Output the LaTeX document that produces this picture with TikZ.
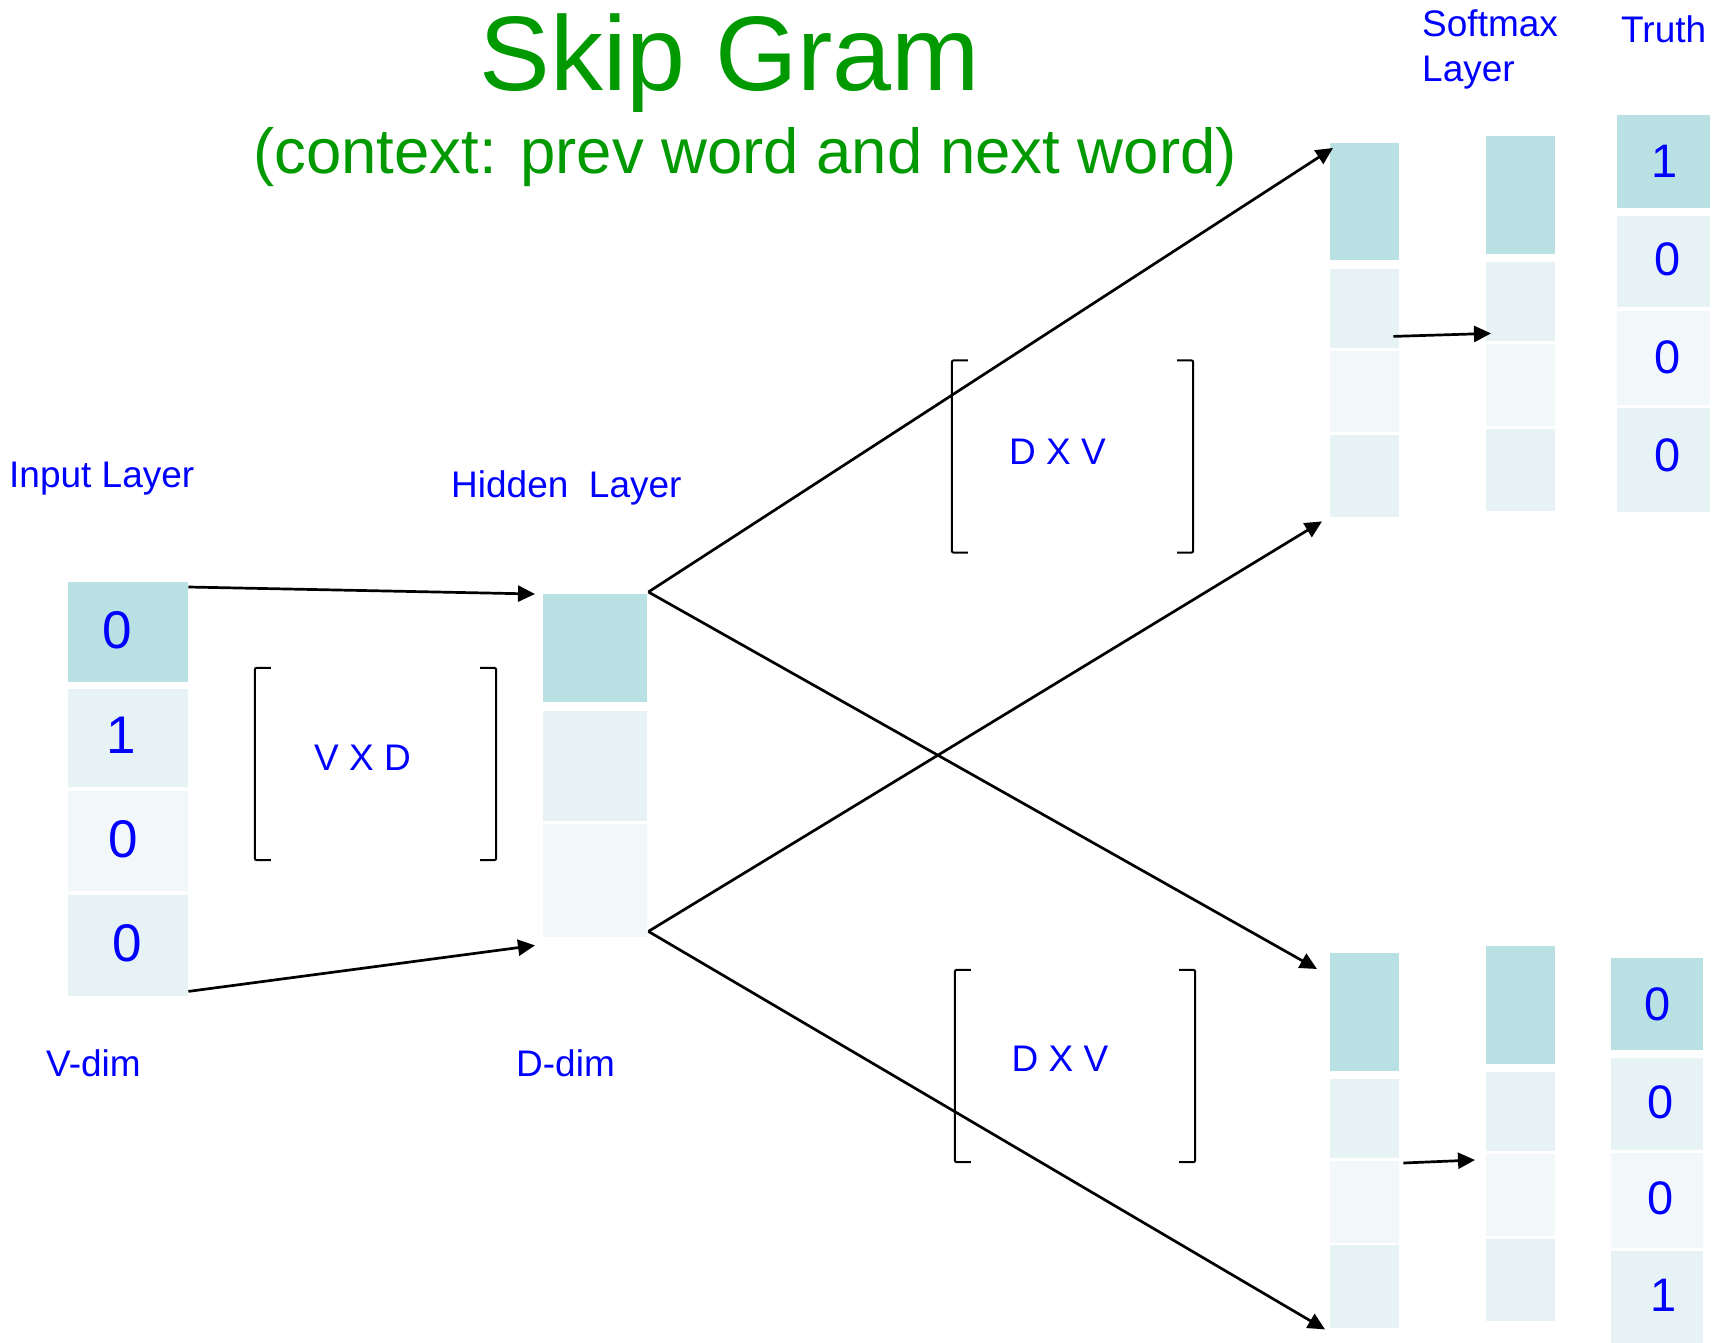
\documentclass[tikz,border=0pt]{standalone}
\usepackage{fontspec}
\setmainfont{Liberation Sans}
\usetikzlibrary{arrows.meta}

\definecolor{cellteal}{RGB}{185,224,227}
\definecolor{cellpale}{RGB}{230,242,244}
\definecolor{cellwhite}{RGB}{242,248,250}
\definecolor{titlegreen}{RGB}{0,153,0}

\begin{document}
\begin{tikzpicture}[x=1pt, y=-1pt,
	cell/.style={rectangle, anchor=north west, inner sep=0pt},
	celldark/.style={cell, fill=cellteal},
	cellmid/.style={cell, fill=cellpale},
	celllight/.style={cell, fill=cellwhite},
	lbl/.style={inner sep=0pt, text=blue, font=\fontsize{37}{45}\selectfont},
	bigdigit/.style={inner sep=0pt, text=blue, font=\fontsize{53}{60}\selectfont},
	smalldigit/.style={inner sep=0pt, text=blue, font=\fontsize{47}{54}\selectfont},
	matbox/.style={inner sep=0pt, minimum width=241pt, minimum height=192pt},
	brk/.style={line width=2pt, rounded corners=2pt},
	arr/.style={line width=2.7pt, -{Triangle[length=17pt,width=16pt]}}]
	\useasboundingbox (0,0) rectangle (1725,1343);

	% Title lines
	\node[anchor=base, text=titlegreen, font=\fontsize{106}{120}\selectfont] (title) at (730,91) {Skip Gram};
	\node[anchor=base, text=titlegreen, font=\fontsize{63.5}{72}\selectfont] (subtitle) at (745,174) {(context: prev word and next word)};

	% Input layer (one-hot)
	\node[celldark, minimum width=120pt, minimum height=100pt, label={[bigdigit, xshift=-11pt, yshift=2pt]center:0}] (in1) at (68,582) {};
	\node[cellmid, minimum width=120pt, minimum height=98pt, label={[bigdigit, xshift=-7pt, yshift=3pt]center:1}] (in2) at (68,689) {};
	\node[celllight, minimum width=120pt, minimum height=100pt, label={[bigdigit, xshift=-5pt, yshift=2pt]center:0}] (in3) at (68,791) {};
	\node[cellmid, minimum width=120pt, minimum height=101pt, label={[bigdigit, xshift=-1pt, yshift=2pt]center:0}] (in4) at (68,895) {};

	% Hidden layer
	\node[celldark, minimum width=104pt, minimum height=108pt] (hid1) at (543,594) {};
	\node[cellmid, minimum width=104pt, minimum height=110pt] (hid2) at (543,711) {};
	\node[celllight, minimum width=104pt, minimum height=113pt] (hid3) at (543,824) {};

	% Upper output, softmax and truth columns
	\node[celldark, minimum width=69pt, minimum height=117pt] (ta1) at (1330,143) {};
	\node[cellmid, minimum width=69pt, minimum height=79pt] (ta2) at (1330,269) {};
	\node[celllight, minimum width=69pt, minimum height=81pt] (ta3) at (1330,351) {};
	\node[cellmid, minimum width=69pt, minimum height=82pt] (ta4) at (1330,435) {};
	\node[celldark, minimum width=69pt, minimum height=118pt] (sa1) at (1486,136) {};
	\node[cellmid, minimum width=69pt, minimum height=79pt] (sa2) at (1486,262) {};
	\node[celllight, minimum width=69pt, minimum height=82pt] (sa3) at (1486,344) {};
	\node[cellmid, minimum width=69pt, minimum height=82pt] (sa4) at (1486,429) {};
	\node[celldark, minimum width=93pt, minimum height=93pt, label={[smalldigit, xshift=1pt]center:1}] (ua1) at (1617,115) {};
	\node[cellmid, minimum width=93pt, minimum height=91pt, label={[smalldigit, xshift=4pt, yshift=2pt]center:0}] (ua2) at (1617,216) {};
	\node[celllight, minimum width=93pt, minimum height=94pt, label={[smalldigit, xshift=4pt, yshift=1pt]center:0}] (ua3) at (1617,311) {};
	\node[cellmid, minimum width=93pt, minimum height=104pt, label={[smalldigit, xshift=4pt, yshift=5pt]center:0}] (ua4) at (1617,408) {};

	% Lower output, softmax and truth columns
	\node[celldark, minimum width=69pt, minimum height=118pt] (tb1) at (1330,953) {};
	\node[cellmid, minimum width=69pt, minimum height=79pt] (tb2) at (1330,1079) {};
	\node[celllight, minimum width=69pt, minimum height=82pt] (tb3) at (1330,1161) {};
	\node[cellmid, minimum width=69pt, minimum height=83pt] (tb4) at (1330,1245) {};
	\node[celldark, minimum width=69pt, minimum height=118pt] (sb1) at (1486,946) {};
	\node[cellmid, minimum width=69pt, minimum height=79pt] (sb2) at (1486,1072) {};
	\node[celllight, minimum width=69pt, minimum height=82pt] (sb3) at (1486,1154) {};
	\node[cellmid, minimum width=69pt, minimum height=82pt] (sb4) at (1486,1239) {};
	\node[celldark, minimum width=92pt, minimum height=92pt, label={[smalldigit]center:0}] (ub1) at (1611,958) {};
	\node[cellmid, minimum width=92pt, minimum height=92pt, label={[smalldigit, xshift=3pt, yshift=2pt]center:0}] (ub2) at (1611,1058) {};
	\node[celllight, minimum width=92pt, minimum height=95pt, label={[smalldigit, xshift=3pt, yshift=2pt]center:0}] (ub3) at (1611,1153) {};
	\node[cellmid, minimum width=92pt, minimum height=95pt, label={[smalldigit, xshift=6pt, yshift=3pt]center:1}] (ub4) at (1611,1251) {};

	% Layer labels
	\node[lbl, anchor=base west] (inlbl) at (9,487) {Input Layer};
	\node[lbl, anchor=base west] (hidlbl) at (451,497) {Hidden\ \ Layer};
	\node[lbl, anchor=base west] (vdim) at (46,1076) {V-dim};
	\node[lbl, anchor=base west] (ddim) at (516,1076) {D-dim};
	\node[lbl, anchor=north west, align=left] (smlbl) at (1422,10) {Softmax\\Layer};
	\node[lbl, anchor=base west] (truthlbl) at (1621,43) {Truth};

	% Weight matrices with brackets
	\node[matbox] (vxd) at (375.5,764) {};
	\node[matbox] (dxv1) at (1072.5,456.5) {};
	\node[matbox, minimum width=240pt] (dxv2) at (1075,1066) {};
	\foreach \m in {vxd,dxv1,dxv2} {
		\draw[brk] ([xshift=16pt]\m.north west) -- (\m.north west) -- (\m.south west) -- ([xshift=16pt]\m.south west); % Draw the left bracket
		\draw[brk] ([xshift=-16pt]\m.north east) -- (\m.north east) -- (\m.south east) -- ([xshift=-16pt]\m.south east); % Draw the right bracket
	}
	\node[lbl] (vxdtxt) at ([xshift=-13pt,yshift=6pt]vxd.center) {V X D};
	\node[lbl] (dxv1txt) at ([xshift=-15pt,yshift=5pt]dxv1.center) {D X V};
	\node[lbl] (dxv2txt) at ([xshift=-15pt,yshift=7pt]dxv2.center) {D X V};

	% Corners of the hidden layer where the output arrows start
	\coordinate (hidtop) at ([xshift=1pt,yshift=2pt]hid1.north east);
	\coordinate (hidbot) at ([xshift=1pt,yshift=6pt]hid3.south east);

	\draw[arr] ([yshift=-5pt]in1.north east) -- ([xshift=-8pt]hid1.north west); % Draw the upper input arrow
	\draw[arr] ([yshift=5pt]in4.south east) -- ([xshift=-8pt,yshift=-8pt]hid3.south west); % Draw the lower input arrow
	\draw[arr] (hidtop) -- ([xshift=3pt,yshift=-5pt]ta1.north west); % Draw the arrow to the upper output
	\draw[arr] (hidtop) -- ([xshift=-13pt,yshift=-16pt]tb1.north west); % Draw the arrow to the lower output
	\draw[arr] (hidbot) -- ([xshift=-8pt,yshift=-4pt]ta4.south west); % Draw the crossing arrow to the upper output
	\draw[arr] (hidbot) -- ([xshift=-5pt,yshift=-1pt]tb4.south west); % Draw the arrow to the lower output bottom
	\draw[arr] ([xshift=-6pt,yshift=12pt]ta2.south east) -- ([xshift=5pt,yshift=8pt]sa2.south west); % Draw the upper softmax arrow
	\draw[arr] ([xshift=4pt,yshift=-2pt]tb3.north east) -- ([xshift=-11pt,yshift=-6pt]sb3.north west); % Draw the lower softmax arrow
\end{tikzpicture}
\end{document}
